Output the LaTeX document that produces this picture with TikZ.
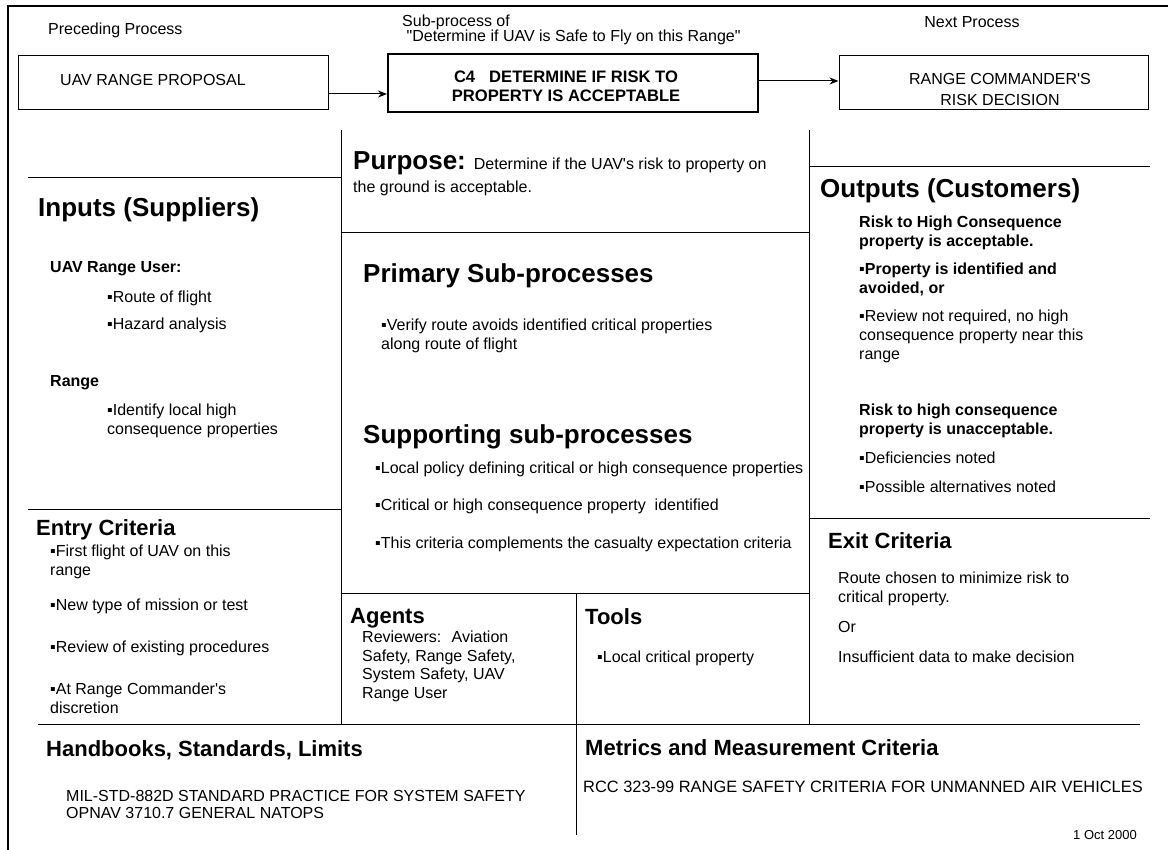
\documentclass[tikz,border=0pt]{standalone}
\usepackage{fontspec}
\setmainfont{Liberation Sans}[Ligatures=TeXOff]
\usetikzlibrary{arrows.meta,calc}
\begin{document}
\begin{tikzpicture}[x=1pt,y=-1pt,
  body/.style={anchor=base west,inner sep=0pt,align=left,font=\fontsize{16}{19}\selectfont},
  bodyb/.style={body,font=\fontsize{16}{19}\selectfont\bfseries},
  hbig/.style={anchor=base west,inner sep=0pt,font=\fontsize{26}{30}\selectfont\bfseries},
  hmid/.style={anchor=base west,inner sep=0pt,font=\fontsize{22}{26}\selectfont\bfseries},
  pbox/.style={draw,line width=1pt,inner sep=0pt},
  grid/.style={line width=1pt},
  frame/.style={line width=2pt},
  arr/.style={line width=1pt,-{Stealth[length=9pt,width=7pt]}}]
\useasboundingbox (0,0) rectangle (1168,850);
% frame
\draw[frame] (8,850) -- (8,6) -- (1168,6);
% top row
\node[body] (prec) at (48,35) {Preceding Process};
\node[body] (subof) at (402,42) {Sub-process of\\[-4pt]\ "Determine if UAV is Safe to Fly on this Range"};
\node[body,anchor=base] (next) at (972,28) {Next Process};
\node[pbox,minimum width=310pt,minimum height=54pt] (uav) at (173,83) {};
\node[body] (uavt) at (60,86) {UAV RANGE PROPOSAL};
\node[pbox,line width=2pt,minimum width=370pt,minimum height=58pt] (c4) at (573,83) {};
\node[bodyb,anchor=base,align=center,font=\fontsize{16.6}{19}\selectfont\bfseries] (c4t) at (566,102) {C4\hspace{14pt}DETERMINE IF RISK TO\\PROPERTY IS ACCEPTABLE};
\node[pbox,minimum width=309pt,minimum height=54pt] (rc) at (993.5,83) {};
\node[body,anchor=base,align=center] (rct) at (1000,106) {RANGE COMMANDER'S\\[2pt]RISK DECISION};
\draw[arr] ($(uav.east)+(0,11)$) -- ($(c4.west)+(0,11)$);
\draw[arr] ($(c4.east)+(0,-2)$) -- ($(rc.west)+(0,-2)$);
% grid lines
\draw[grid] (341,130) -- (341,724);
\draw[grid] (809,130) -- (809,724);
\draw[grid] (576,593) -- (576,835);
\draw[grid] (28,178) -- (341,178);
\draw[grid] (28,509) -- (341,509);
\draw[grid] (341,233) -- (809,233);
\draw[grid] (341,593) -- (809,593);
\draw[grid] (809,167) -- (1150,167);
\draw[grid] (809,518) -- (1150,518);
\draw[grid] (38,724) -- (1140,724);
% inputs
\node[hbig] (inh) at (38,217) {Inputs (Suppliers)};
\node[bodyb] (in1) at (50,273) {UAV Range User:};
\node[body] (in2) at (107,303) {▪Route of flight};
\node[body] (in3) at (107,330) {▪Hazard analysis};
\node[bodyb] (in4) at (50,387) {Range};
\node[body] (in5) at (107,434) {▪Identify local high\\consequence properties};
% entry
\node[hmid] (enh) at (36,535) {Entry Criteria};
\node[body] (en1) at (50,575) {▪First flight of UAV on this\\range};
\node[body] (en2) at (50,610) {▪New type of mission or test};
\node[body] (en3) at (50,652) {▪Review of existing procedures};
\node[body] (en4) at (50,713) {▪At Range Commander's\\discretion};
% purpose
\node[body] (pur) at (353,193) {{\fontsize{26}{30}\selectfont\bfseries Purpose:}\enspace Determine if the UAV's risk to property on\\[4pt]the ground is acceptable.};
% primary
\node[hbig] (prh) at (363,283) {Primary Sub-processes};
\node[body] (pr1) at (381,350) {▪Verify route avoids identified critical properties\\along route of flight};
\node[hbig] (suh) at (363,443) {Supporting sub-processes};
\node[body] (su1) at (375,473) {▪Local policy defining critical or high consequence properties};
\node[body] (su2) at (375,510) {▪Critical or high consequence property~ identified};
\node[body] (su3) at (375,548) {▪This criteria complements the casualty expectation criteria};
% agents / tools
\node[hmid] (agh) at (350,623) {Agents};
\node[body,font=\fontsize{16}{18.5}\selectfont] (ag1) at (362,698) {Reviewers:~ Aviation\\Safety, Range Safety,\\System Safety, UAV\\Range User};
\node[hmid] (toh) at (585,624) {Tools};
\node[body] (to1) at (597,662) {▪Local critical property};
% outputs
\node[hbig] (ouh) at (820,198) {Outputs (Customers)};
\node[bodyb] (ou1) at (859,247) {Risk to High Consequence\\property is acceptable.};
\node[bodyb] (ou2) at (859,294) {▪Property is identified and\\avoided, or};
\node[body] (ou3) at (859,360) {▪Review not required, no high\\consequence property near this\\range};
\node[bodyb] (ou4) at (859,435) {Risk to high consequence\\property is unacceptable.};
\node[body] (ou5) at (859,463) {▪Deficiencies noted};
\node[body] (ou6) at (859,492) {▪Possible alternatives noted};
% exit
\node[hmid] (exh) at (828,548) {Exit Criteria};
\node[body] (ex1) at (838,602) {Route chosen to minimize risk to\\critical property.};
\node[body] (ex2) at (838,632) {Or};
\node[body] (ex3) at (838,662) {Insufficient data to make decision};
% bottom
\node[hmid] (hbh) at (46,756) {Handbooks, Standards, Limits};
\node[body] (hb1) at (66,818) {MIL-STD-882D STANDARD PRACTICE FOR SYSTEM SAFETY\\[-2pt]OPNAV 3710.7 GENERAL NATOPS};
\node[hmid] (meh) at (585,755) {Metrics and Measurement Criteria};
\node[body,font=\fontsize{16.4}{19}\selectfont] (me1) at (583,792) {RCC 323-99 RANGE SAFETY CRITERIA FOR UNMANNED AIR VEHICLES};
\node[body,anchor=base east,font=\fontsize{13}{15}\selectfont] (date) at (1137,839) {1 Oct 2000};
\end{tikzpicture}
\end{document}
